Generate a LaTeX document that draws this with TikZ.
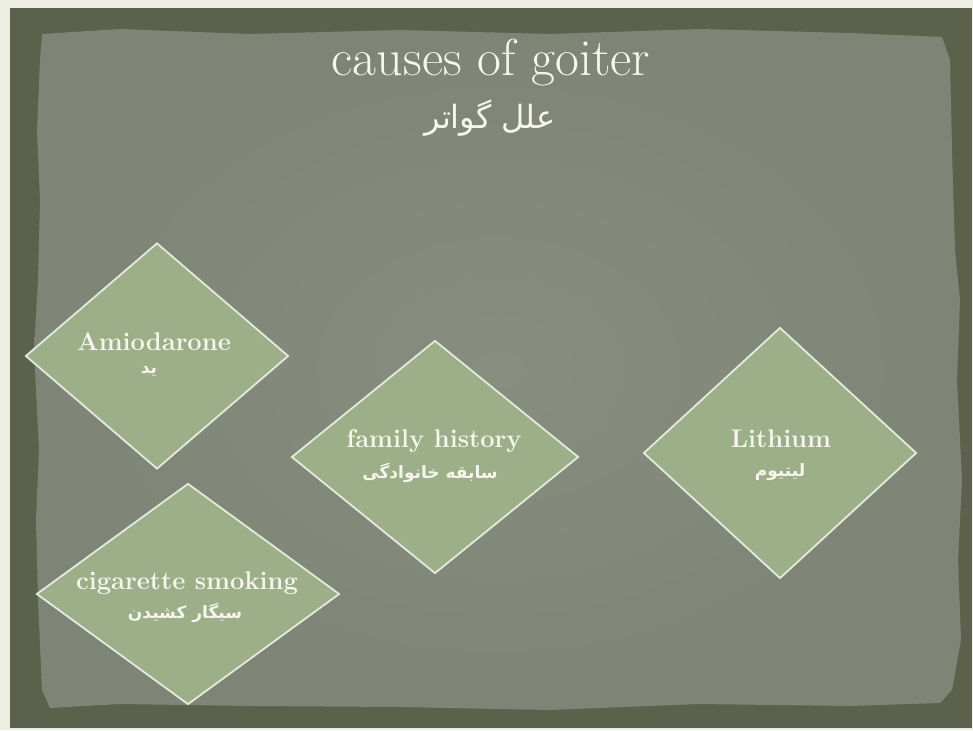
\documentclass[tikz,border=0pt]{standalone}
\usepackage{fontspec}
\usetikzlibrary{shapes.geometric}
\newfontfamily\arabicfont[Script=Arabic]{DejaVu Sans}
\TeXXeTstate=1
\definecolor{bgbeige}{HTML}{EEEDE3}
\definecolor{framegreen}{HTML}{5A624C}
\definecolor{paperA}{HTML}{878D7F}
\definecolor{paperB}{HTML}{7E8476}
\definecolor{diafill}{HTML}{9CAF88}
\definecolor{diaedge}{HTML}{E4EBDA}
\definecolor{txtwhite}{HTML}{F6F6EE}
\tikzset{
  causebox/.style={shape=diamond, draw=diaedge, fill=diafill, line width=1.8pt, inner sep=0pt},
  entext/.style={anchor=base, text=txtwhite, font=\fontsize{25.5}{30}\selectfont\bfseries, inner sep=0pt},
  artext/.style={anchor=center, text=txtwhite, font=\arabicfont\fontsize{17}{20}\selectfont\bfseries, inner sep=0pt},
}
\begin{document}
\begin{tikzpicture}[x=1pt,y=-1pt]
\useasboundingbox (0,0) rectangle (973,730);
\fill[bgbeige] (0,0) rectangle (973,730);
\fill[framegreen] (10,8) rectangle (972,728);
% paper
\shade[inner color=paperA, outer color=paperB]
  (42,34) -- (120,29) -- (250,34) -- (400,30) -- (550,34) -- (700,29) -- (850,33) -- (942,37)
  -- (950,60) -- (952,150) -- (955,250) -- (960,300) -- (957,380) -- (962,480) -- (958,560)
  -- (961,640) -- (952,690) -- (940,703)
  -- (850,706) -- (700,704) -- (600,708) -- (550,710) -- (400,707) -- (250,706) -- (120,704) -- (50,708)
  -- (42,690) -- (38,600) -- (36,520) -- (39,450) -- (34,350) -- (38,280) -- (40,200) -- (37,130) -- (40,60) -- cycle;
% title
\node[anchor=base, text=txtwhite, font=\fontsize{52}{58}\selectfont, inner sep=0pt] (title) at (491,76) {causes of goiter};
\node[anchor=base, text=txtwhite, font=\arabicfont\fontsize{32}{38}\selectfont, inner sep=0pt] (titlear) at (490,129) {\beginR علل گواتر\endR};
% diamonds
\node[causebox, minimum width=263pt, minimum height=226pt] (amio) at (157,356) {};
\node[causebox, minimum width=287pt, minimum height=233pt] (family) at (435,457) {};
\node[causebox, minimum width=273pt, minimum height=251pt] (lith) at (780,453) {};
\node[causebox, minimum width=303pt, minimum height=221pt] (cig) at (188,594) {};
% labels
\node[entext] (amioen) at (154,350) {Amiodarone};
\node[artext] (amioar) at (149,371) {\beginR ید\endR};
\node[entext] (familyen) at (434,447) {family history};
\node[artext] (familyar) at (430,473) {\beginR سابقه خانوادگی\endR};
\node[entext] (lithen) at (781,447) {Lithium};
\node[artext] (lithar) at (780,472) {\beginR لیتیوم\endR};
\node[entext] (cigen) at (187,589) {cigarette smoking};
\node[artext] (cigar) at (185,613) {\beginR سیگار کشیدن\endR};
\end{tikzpicture}
\end{document}
